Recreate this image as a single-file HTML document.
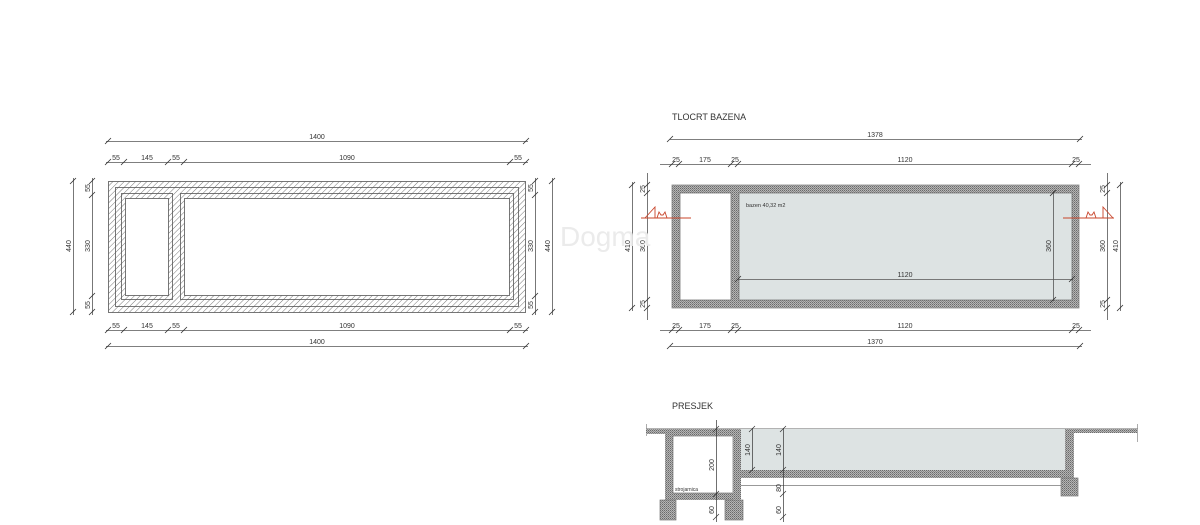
<!DOCTYPE html>
<html><head><meta charset="utf-8"><style>
html,body{margin:0;padding:0;background:#fff;width:1200px;height:525px;overflow:hidden}
text{font-family:"Liberation Sans",sans-serif;fill:#333}
.d{font-size:7px}
</style></head><body>
<svg width="1200" height="525" viewBox="0 0 1200 525" xmlns="http://www.w3.org/2000/svg">
<defs>
<pattern id="h" width="4" height="4" patternUnits="userSpaceOnUse" patternTransform="rotate(45)">
<rect width="4" height="4" fill="#fff"/><line x1="0" y1="0" x2="0" y2="4" stroke="#777" stroke-width="1"/></pattern>
<pattern id="c" width="2" height="2" patternUnits="userSpaceOnUse">
<rect width="2" height="2" fill="#b5b5b5"/><rect width="1" height="1" fill="#6a6a6a"/><rect x="1" y="1" width="1" height="1" fill="#888"/></pattern>
</defs>
<g stroke="#555" stroke-width="0.8" fill="none">
<!-- LEFT PLAN -->
<rect x="108.5" y="181.5" width="417" height="131" fill="url(#h)"/>
<rect x="115.5" y="187.5" width="403" height="119"/>
<rect x="121.5" y="193.5" width="51" height="106"/>
<rect x="125.5" y="198.5" width="43" height="97" fill="#fff"/>
<rect x="180.5" y="193.5" width="333" height="106"/>
<rect x="184.5" y="198.5" width="325" height="97" fill="#fff"/>
<!-- dims -->
<line x1="106" y1="141.5" x2="528" y2="141.5"/>
<line x1="106" y1="162.5" x2="528" y2="162.5"/>
<line x1="106" y1="330.5" x2="528" y2="330.5"/>
<line x1="106" y1="346.5" x2="528" y2="346.5"/>
<line x1="73.5" y1="178" x2="73.5" y2="315"/>
<line x1="92.5" y1="178" x2="92.5" y2="315"/>
<line x1="535.5" y1="178" x2="535.5" y2="315"/>
<line x1="552.5" y1="178" x2="552.5" y2="315"/>
<g stroke="#333">
<path d="M105,144 l6,-6 M523,144 l6,-6"/>
<path d="M105,165 l6,-6 M121,165 l6,-6 M165,165 l6,-6 M181,165 l6,-6 M507,165 l6,-6 M523,165 l6,-6"/>
<path d="M105,333 l6,-6 M121,333 l6,-6 M165,333 l6,-6 M181,333 l6,-6 M507,333 l6,-6 M523,333 l6,-6"/>
<path d="M105,349 l6,-6 M523,349 l6,-6"/>
<path d="M70,184 l6,-6 M70,315 l6,-6 M89,184 l6,-6 M89,198 l6,-6 M89,299 l6,-6 M89,315 l6,-6"/>
<path d="M532,184 l6,-6 M532,198 l6,-6 M532,299 l6,-6 M532,315 l6,-6 M549,184 l6,-6 M549,315 l6,-6"/>
</g>
<!-- RIGHT PLAN -->
<rect x="672" y="185" width="407" height="123" fill="url(#c)" stroke="#888"/>
<rect x="680" y="193" width="51" height="107" fill="#fff" stroke="#777"/>
<rect x="739" y="193" width="333" height="107" fill="#dde3e3" stroke="#777"/>
<line x1="670" y1="139.5" x2="1082" y2="139.5"/>
<line x1="660" y1="164.5" x2="1091" y2="164.5"/>
<line x1="660" y1="330.5" x2="1091" y2="330.5"/>
<line x1="670" y1="346.5" x2="1082" y2="346.5"/>
<line x1="632.5" y1="182" x2="632.5" y2="311"/>
<line x1="647.5" y1="173" x2="647.5" y2="320"/>
<line x1="1107.5" y1="173" x2="1107.5" y2="320"/>
<line x1="1120.5" y1="182" x2="1120.5" y2="311"/>
<line x1="738" y1="279.5" x2="1073" y2="279.5"/>
<line x1="1053.5" y1="191" x2="1053.5" y2="301"/>
<g stroke="#333">
<path d="M667,142 l6,-6 M1077,142 l6,-6"/>
<path d="M669,167 l6,-6 M676,167 l6,-6 M728,167 l6,-6 M735,167 l6,-6 M1069,167 l6,-6 M1076,167 l6,-6"/>
<path d="M669,333 l6,-6 M676,333 l6,-6 M728,333 l6,-6 M735,333 l6,-6 M1069,333 l6,-6 M1076,333 l6,-6"/>
<path d="M667,349 l6,-6 M1077,349 l6,-6"/>
<path d="M629,188 l6,-6 M629,311 l6,-6 M644,188 l6,-6 M644,196 l6,-6 M644,303 l6,-6 M644,311 l6,-6"/>
<path d="M1104,188 l6,-6 M1104,196 l6,-6 M1104,303 l6,-6 M1104,311 l6,-6 M1117,188 l6,-6 M1117,311 l6,-6"/>
<path d="M735,282 l6,-6 M1069,282 l6,-6 M1050,196 l6,-6 M1050,303 l6,-6"/>
</g>
</g>
<!-- red section markers -->
<g stroke="#c8442a" stroke-width="0.9" fill="none">
<line x1="641" y1="218" x2="691" y2="218"/>
<path d="M645,218 L655,207 L655,218"/>
<path d="M657,218 l2,-6 l2,3 l2,0 l2,-3 l2,6"/>
<line x1="1063" y1="218" x2="1114" y2="218"/>
<path d="M1113,218 L1103,207 L1103,218"/>
<path d="M1086,218 l2,-6 l2,3 l2,0 l2,-3 l2,6"/>
</g>
<!-- SECTION -->
<g stroke="#777" stroke-width="0.7">
<rect x="738" y="429" width="327" height="41" fill="#dde3e3" stroke="none"/>
<line x1="646" y1="428.5" x2="1138" y2="428.5" stroke="#999"/>
<line x1="646.5" y1="424" x2="646.5" y2="436" stroke="#888"/>
<line x1="1137.5" y1="424" x2="1137.5" y2="442" stroke="#888"/>
<rect x="646" y="429" width="92" height="5" fill="url(#c)" stroke="none"/>
<rect x="665" y="429" width="73" height="71" fill="url(#c)" stroke="none"/>
<rect x="673" y="436" width="60" height="57" fill="#fff"/>
<rect x="660" y="500" width="16" height="20" fill="url(#c)"/>
<rect x="725" y="500" width="18" height="20" fill="url(#c)"/>
<rect x="733" y="429" width="8" height="71" fill="url(#c)" stroke="none"/>
<rect x="741" y="470" width="333" height="8" fill="url(#c)" stroke="none"/>
<rect x="1065" y="429" width="9" height="49" fill="url(#c)" stroke="none"/>
<rect x="1074" y="429" width="63" height="4" fill="url(#c)" stroke="none"/>
<rect x="1061" y="478" width="17" height="18" fill="url(#c)"/>
<line x1="741" y1="485.5" x2="1061" y2="485.5"/>
<line x1="716.5" y1="420" x2="716.5" y2="522" stroke="#333"/>
<line x1="752.5" y1="428" x2="752.5" y2="471" stroke="#333"/>
<line x1="783.5" y1="428" x2="783.5" y2="522" stroke="#333"/>
<g stroke="#333"><path d="M713,432 l6,-6 M713,497 l6,-6 M713,520 l6,-6 M749,432 l6,-6 M749,473 l6,-6 M780,432 l6,-6 M780,473 l6,-6 M780,497 l6,-6 M780,520 l6,-6"/></g>
</g>
<!-- TEXT -->
<text x="672" y="120" font-size="9">TLOCRT BAZENA</text>
<text x="672" y="409" font-size="9">PRESJEK</text>
<g class="d" text-anchor="middle">
<text x="317" y="139">1400</text>
<text x="116" y="160">55</text><text x="147" y="160">145</text><text x="176" y="160">55</text><text x="347" y="160">1090</text><text x="518" y="160">55</text>
<text x="116" y="328">55</text><text x="147" y="328">145</text><text x="176" y="328">55</text><text x="347" y="328">1090</text><text x="518" y="328">55</text>
<text x="317" y="344">1400</text>
<text x="875" y="137">1378</text>
<text x="676" y="162">25</text><text x="705" y="162">175</text><text x="735" y="162">25</text><text x="905" y="162">1120</text><text x="1076" y="162">25</text>
<text x="676" y="328">25</text><text x="705" y="328">175</text><text x="735" y="328">25</text><text x="905" y="328">1120</text><text x="1076" y="328">25</text>
<text x="875" y="344">1370</text>
<text x="905" y="277">1120</text>
</g>
<text x="746" y="207" font-size="5.5" fill="#222">bazen 40,32 m2</text>
<text x="675" y="491" font-size="5" fill="#222">strojarnica</text>
<g class="d" text-anchor="middle">
<text transform="translate(71,246) rotate(-90)">440</text>
<text transform="translate(90,188) rotate(-90)">55</text>
<text transform="translate(90,246) rotate(-90)">330</text>
<text transform="translate(90,305) rotate(-90)">55</text>
<text transform="translate(533,188) rotate(-90)">55</text>
<text transform="translate(533,246) rotate(-90)">330</text>
<text transform="translate(533,305) rotate(-90)">55</text>
<text transform="translate(550,246) rotate(-90)">440</text>
<text transform="translate(630,246) rotate(-90)">410</text>
<text transform="translate(645,189) rotate(-90)">25</text>
<text transform="translate(645,246) rotate(-90)">360</text>
<text transform="translate(645,304) rotate(-90)">25</text>
<text transform="translate(1051,246) rotate(-90)">360</text>
<text transform="translate(1105,189) rotate(-90)">25</text>
<text transform="translate(1105,246) rotate(-90)">360</text>
<text transform="translate(1105,304) rotate(-90)">25</text>
<text transform="translate(1118,246) rotate(-90)">410</text>
<text transform="translate(714,465) rotate(-90)">200</text>
<text transform="translate(714,510) rotate(-90)">60</text>
<text transform="translate(750,450) rotate(-90)">140</text>
<text transform="translate(781,450) rotate(-90)">140</text>
<text transform="translate(781,488) rotate(-90)">80</text>
<text transform="translate(781,510) rotate(-90)">60</text>
</g>
<text x="560" y="246" font-size="28" font-family="Liberation Serif" fill="#e6e6e6" style="fill:#ebebeb">Dogma</text>
</svg>
</body></html>
